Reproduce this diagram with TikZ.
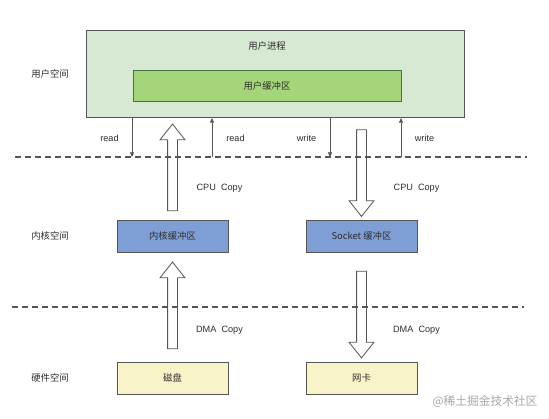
\documentclass[tikz,border=0pt]{standalone}
\usepackage{fontspec}
\setmainfont{Liberation Sans}
\newfontfamily\cjk{Noto Sans CJK SC}
\usetikzlibrary{arrows.meta,positioning,shapes.arrows}
\definecolor{procgreen}{RGB}{215,233,210}
\definecolor{bufgreen}{RGB}{165,213,122}
\definecolor{kernblue}{RGB}{128,158,214}
\definecolor{hwyellow}{RGB}{248,244,200}
\definecolor{edgegray}{RGB}{85,85,85}
\definecolor{txtgray}{RGB}{45,45,45}

\begin{document}
\begin{tikzpicture}[x=0.3mm, y=-0.3mm,
      every node/.style={text=txtgray, font=\fontsize{7.8}{9}\selectfont},
      zh/.style={font=\cjk\fontsize{8}{9}\selectfont},
      bx/.style={draw=edgegray, semithick, minimum width=33.3mm, minimum height=9.6mm, inner sep=0pt, zh},
      arr/.style={-{Triangle[length=4pt, width=3.5pt]}, line width=0.7pt, edgegray},
      sep/.style={line width=1.1pt, edgegray, dash pattern=on 1.8mm off 1.2mm},
      fat/.style={single arrow, draw=edgegray, fill=white, line width=0.7pt,
        inner xsep=0pt, inner ysep=1.35mm, text height=0pt, text depth=0pt,
        minimum width=7.2mm, single arrow head extend=2.25mm, single arrow tip angle=77,
        minimum height=26mm}
    ]
      \useasboundingbox (0,0) rectangle (549,419);

      % user space
      \node[draw=edgegray, semithick, fill=procgreen, inner sep=0pt,
        minimum width=113.4mm, minimum height=26.1mm] (proc) at (275,74.2) {};
      \node[zh] (proclbl) at (267,46) {用户进程};
      \node[draw=edgegray!80!green, semithick, fill=bufgreen, minimum width=80.4mm, minimum height=9.5mm, zh]
        (ubuf) at (267,86) {用户缓冲区};

      % kernel / hardware
      \node[bx, fill=kernblue] (kbuf) at (172.5,236) {内核缓冲区};
      \node[bx, fill=kernblue] (sbuf) at (361.5,236) {Socket {\cjk 缓冲区}};
      \node[bx, fill=hwyellow] (disk) at (172.5,378) {磁盘};
      \node[bx, fill=hwyellow] (nic) at (361.5,378) {网卡};

      \node[zh] (us) at (50,74) {用户空间};
      \node[zh] (ks) at (50,236) {内核空间};
      \node[zh] (hs) at (50,378) {硬件空间};

      % copies
      \node[fat, rotate=90] (cpu1) at (172.5,170.5) {};
      \node[fat, rotate=-90] (cpu2) at (361.5,170) {};
      \node[fat, rotate=90] (dma1) at (172.5,308.5) {};
      \node[fat, rotate=-90] (dma2) at (361.5,311.5) {};
      \node (cpul1) at (219.5,188) {CPU~ Copy};
      \node (cpul2) at (416.5,188) {CPU~ Copy};
      \node (dmal1) at (219.5,330) {DMA~ Copy};
      \node (dmal2) at (416.5,330) {DMA~ Copy};

      % dashed borders
      \coordinate (d1l) at (15,157);
      \coordinate (d1r) at (527,157);
      \coordinate (d2l) at (12,307);
      \coordinate (d2r) at (524,307);
      \draw[sep] (d1l) -- (d1r);
      \draw[sep] (d2l) -- (d2r);

      % system calls
      \coordinate (rd1) at (132,157);
      \coordinate (rd2) at (212,157);
      \coordinate (wr1) at (330,157);
      \coordinate (wr2) at (401,157);
      \draw[arr] (proc.south -| rd1) -- (rd1);
      \draw[arr] (rd2) -- (proc.south -| rd2);
      \draw[arr] (proc.south -| wr1) -- (wr1);
      \draw[arr] (wr2) -- (proc.south -| wr2);
      \node (rdl1) at (109.5,138) {read};
      \node (rdl2) at (235.5,138) {read};
      \node (wrl1) at (306.5,138) {write};
      \node (wrl2) at (424.5,138) {write};

      \node[zh, font=\cjk\fontsize{10}{11}\selectfont, text=black!35] (wm) at (485,402) {@稀土掘金技术社区};
    \end{tikzpicture}
\end{document}
